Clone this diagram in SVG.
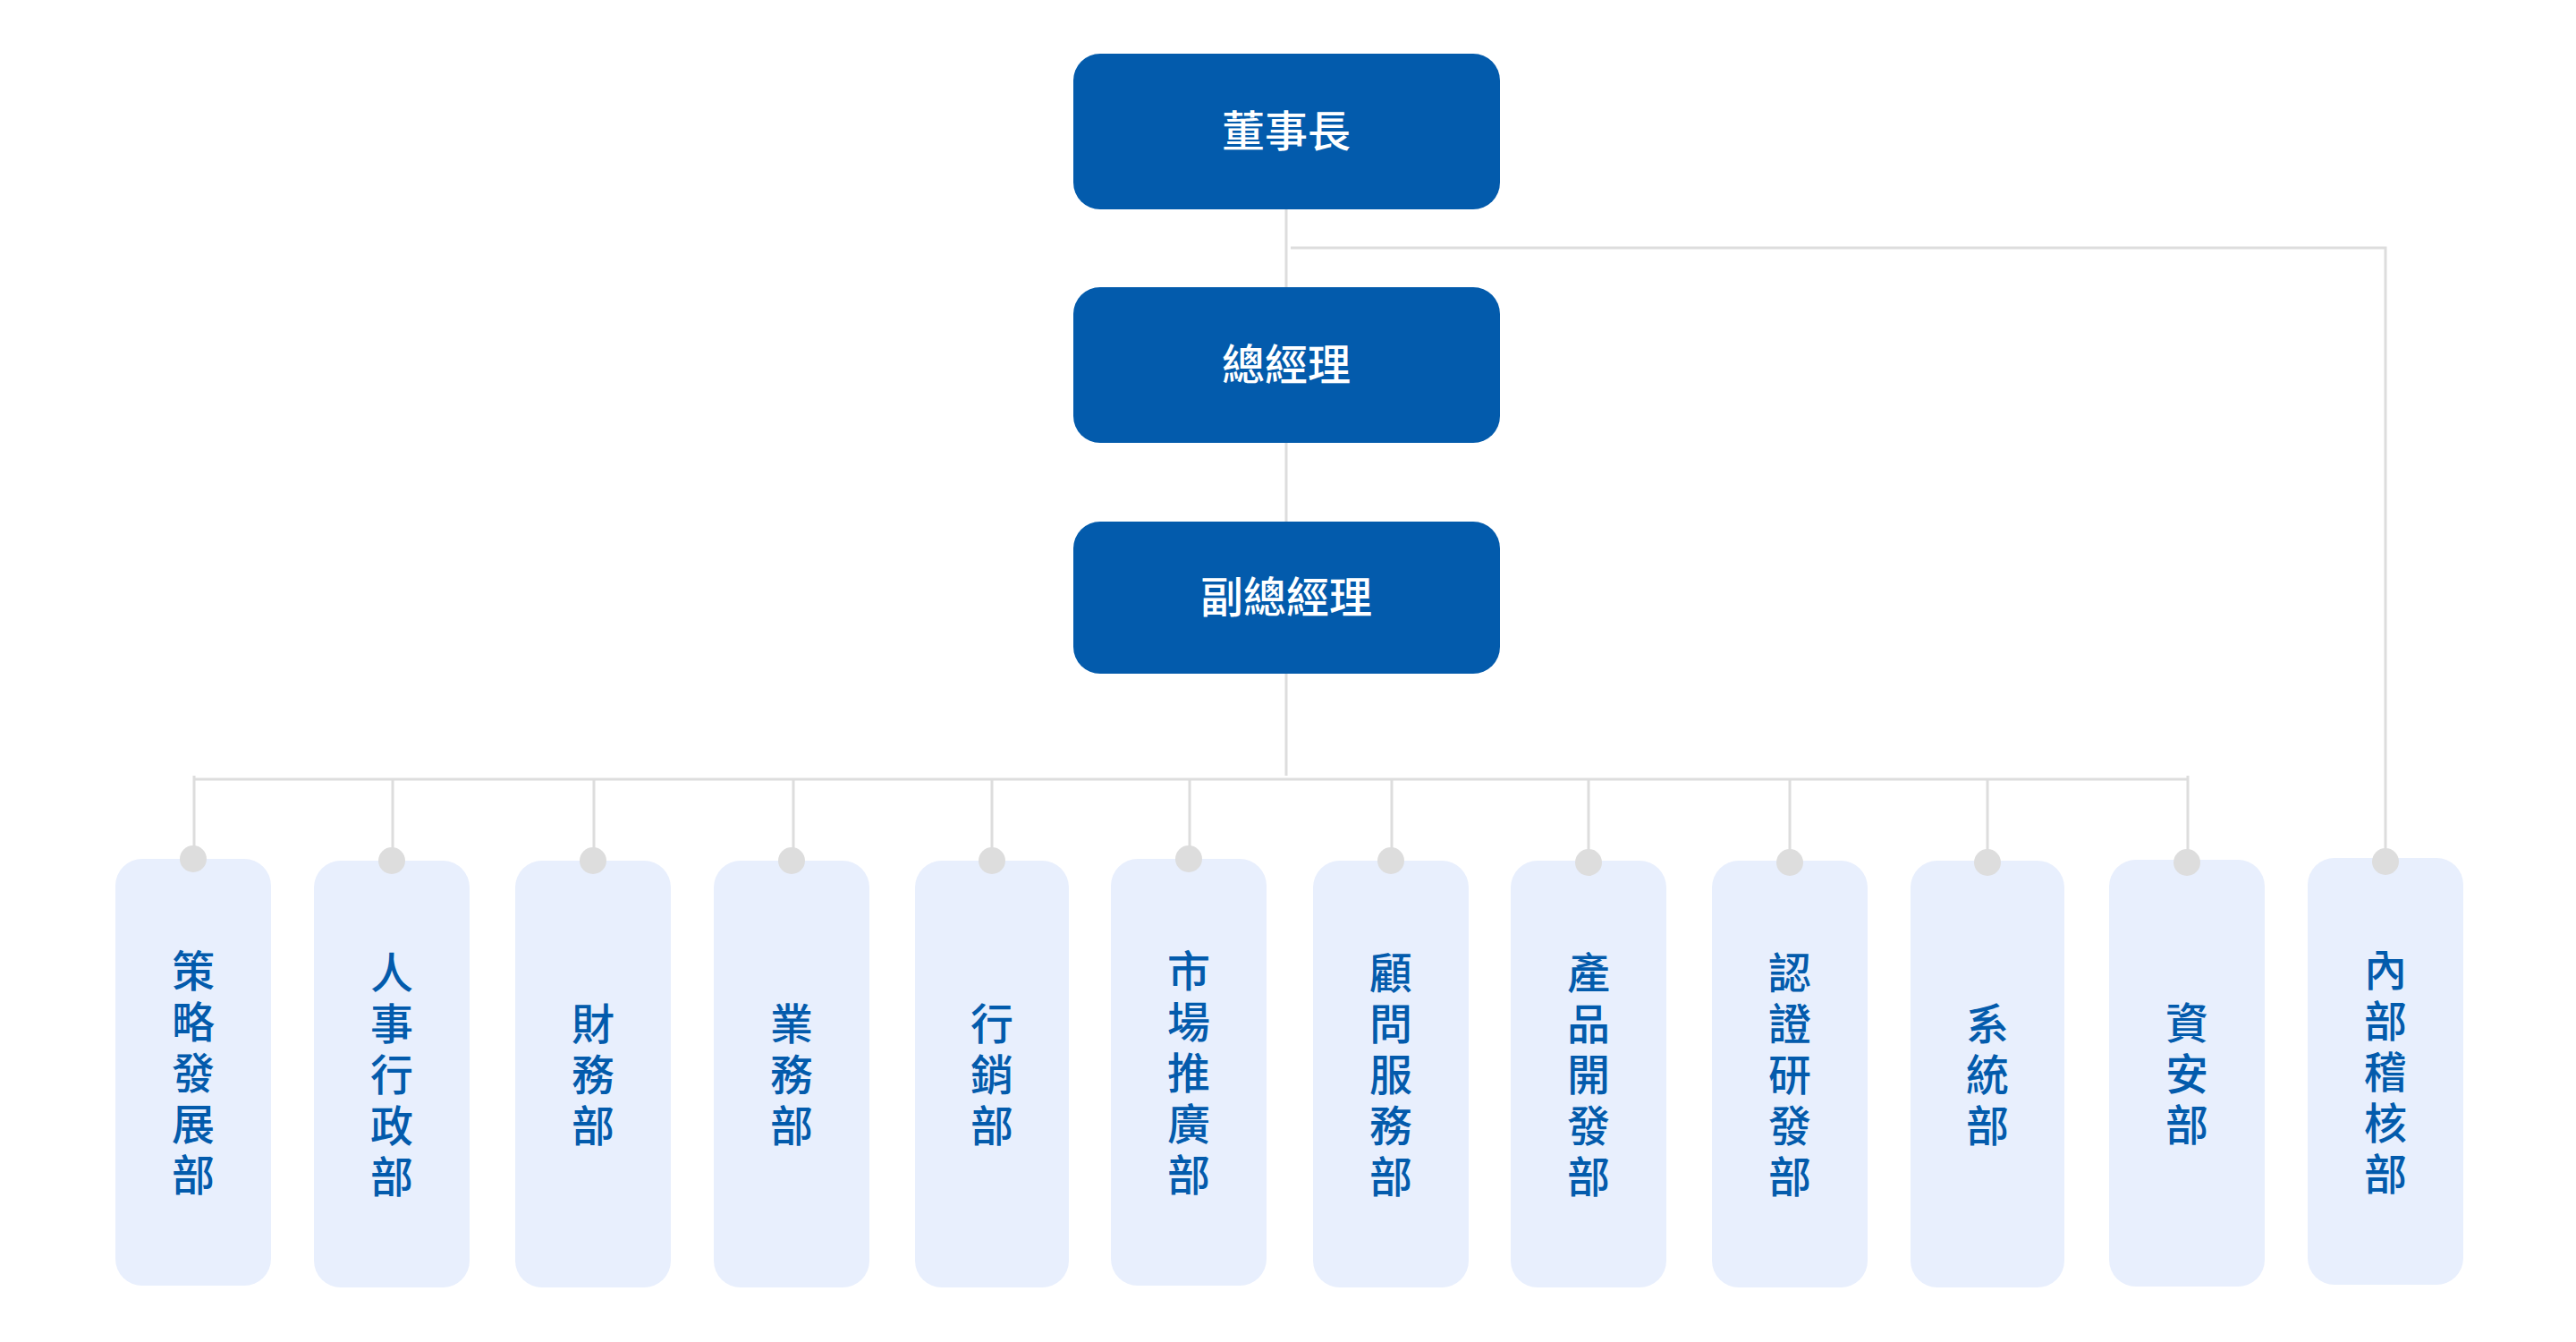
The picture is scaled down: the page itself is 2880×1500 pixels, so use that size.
<svg xmlns="http://www.w3.org/2000/svg" width="2880" height="1500" viewBox="0 0 2880 1500">
<style>
.exec{fill:#035BAC;}
.dept{fill:#E8EFFD;}
.et{fill:#FFFFFF;font-family:'Liberation Sans','Noto Sans CJK TC','Noto Sans CJK SC',sans-serif;font-size:48px;font-weight:500;text-anchor:middle;dominant-baseline:central;}
.dt{fill:#035BAC;font-family:'Liberation Sans','Noto Sans CJK TC','Noto Sans CJK SC',sans-serif;font-size:48px;font-weight:500;text-anchor:middle;dominant-baseline:central;}
.ln{stroke:#DDDDDD;stroke-width:3;fill:none;}
.dot{fill:#DDDDDD;}
</style>
<rect width="2880" height="1500" fill="#FFFFFF"/>
<g id="connectors">
<line class="ln" x1="1438" y1="234" x2="1438" y2="321"/>
<line class="ln" x1="1438" y1="495" x2="1438" y2="583"/>
<line class="ln" x1="1438" y1="752" x2="1438" y2="867"/>
<polyline class="ln" points="1443,277 2667,277 2667,960"/>
<line class="ln" x1="217" y1="871" x2="2447" y2="871"/>
<line class="ln" x1="217" y1="867" x2="217" y2="960"/>
<line class="ln" x1="439" y1="871" x2="439" y2="960"/>
<line class="ln" x1="664" y1="871" x2="664" y2="960"/>
<line class="ln" x1="887" y1="871" x2="887" y2="960"/>
<line class="ln" x1="1109" y1="871" x2="1109" y2="960"/>
<line class="ln" x1="1330" y1="871" x2="1330" y2="960"/>
<line class="ln" x1="1556" y1="871" x2="1556" y2="960"/>
<line class="ln" x1="1776" y1="871" x2="1776" y2="960"/>
<line class="ln" x1="2001" y1="871" x2="2001" y2="960"/>
<line class="ln" x1="2222" y1="871" x2="2222" y2="960"/>
<line class="ln" x1="2446" y1="867" x2="2446" y2="960"/>
</g>
<g id="n-chairman"><rect class="exec" x="1200" y="60" width="477" height="174" rx="30"/><text class="et" x="1438" y="147">董事長</text></g>
<g id="n-gm"><rect class="exec" x="1200" y="321" width="477" height="174" rx="30"/><text class="et" x="1438" y="408">總經理</text></g>
<g id="n-vgm"><rect class="exec" x="1200" y="583" width="477" height="170" rx="30"/><text class="et" x="1438" y="668">副總經理</text></g>

<g id="d1"><rect class="dept" x="129" y="960" width="174" height="477" rx="30"/><circle class="dot" cx="216" cy="960" r="15"/><text class="dt"><tspan x="216" y="1086">策</tspan><tspan x="216" y="1143">略</tspan><tspan x="216" y="1200">發</tspan><tspan x="216" y="1257">展</tspan><tspan x="216" y="1314">部</tspan></text></g>
<g id="d2"><rect class="dept" x="351" y="962" width="174" height="477" rx="30"/><circle class="dot" cx="438" cy="962" r="15"/><text class="dt"><tspan x="438" y="1088">人</tspan><tspan x="438" y="1145">事</tspan><tspan x="438" y="1202">行</tspan><tspan x="438" y="1259">政</tspan><tspan x="438" y="1316">部</tspan></text></g>
<g id="d3"><rect class="dept" x="576" y="962" width="174" height="477" rx="30"/><circle class="dot" cx="663" cy="962" r="15"/><text class="dt"><tspan x="663" y="1145">財</tspan><tspan x="663" y="1202">務</tspan><tspan x="663" y="1259">部</tspan></text></g>
<g id="d4"><rect class="dept" x="798" y="962" width="174" height="477" rx="30"/><circle class="dot" cx="885" cy="962" r="15"/><text class="dt"><tspan x="885" y="1145">業</tspan><tspan x="885" y="1202">務</tspan><tspan x="885" y="1259">部</tspan></text></g>
<g id="d5"><rect class="dept" x="1023" y="962" width="172" height="477" rx="30"/><circle class="dot" cx="1109" cy="962" r="15"/><text class="dt"><tspan x="1109" y="1145">行</tspan><tspan x="1109" y="1202">銷</tspan><tspan x="1109" y="1259">部</tspan></text></g>
<g id="d6"><rect class="dept" x="1242" y="960" width="174" height="477" rx="30"/><circle class="dot" cx="1329" cy="960" r="15"/><text class="dt"><tspan x="1329" y="1086">市</tspan><tspan x="1329" y="1143">場</tspan><tspan x="1329" y="1200">推</tspan><tspan x="1329" y="1257">廣</tspan><tspan x="1329" y="1314">部</tspan></text></g>
<g id="d7"><rect class="dept" x="1468" y="962" width="174" height="477" rx="30"/><circle class="dot" cx="1555" cy="962" r="15"/><text class="dt"><tspan x="1555" y="1088">顧</tspan><tspan x="1555" y="1145">問</tspan><tspan x="1555" y="1202">服</tspan><tspan x="1555" y="1259">務</tspan><tspan x="1555" y="1316">部</tspan></text></g>
<g id="d8"><rect class="dept" x="1689" y="962" width="174" height="477" rx="30"/><circle class="dot" cx="1776" cy="964" r="15"/><text class="dt"><tspan x="1776" y="1088">產</tspan><tspan x="1776" y="1145">品</tspan><tspan x="1776" y="1202">開</tspan><tspan x="1776" y="1259">發</tspan><tspan x="1776" y="1316">部</tspan></text></g>
<g id="d9"><rect class="dept" x="1914" y="962" width="174" height="477" rx="30"/><circle class="dot" cx="2001" cy="964" r="15"/><text class="dt"><tspan x="2001" y="1088">認</tspan><tspan x="2001" y="1145">證</tspan><tspan x="2001" y="1202">研</tspan><tspan x="2001" y="1259">發</tspan><tspan x="2001" y="1316">部</tspan></text></g>
<g id="d10"><rect class="dept" x="2136" y="962" width="172" height="477" rx="30"/><circle class="dot" cx="2222" cy="964" r="15"/><text class="dt"><tspan x="2222" y="1145">系</tspan><tspan x="2222" y="1202">統</tspan><tspan x="2222" y="1259">部</tspan></text></g>
<g id="d11"><rect class="dept" x="2358" y="961" width="174" height="477" rx="30"/><circle class="dot" cx="2445" cy="964" r="15"/><text class="dt"><tspan x="2445" y="1144">資</tspan><tspan x="2445" y="1201">安</tspan><tspan x="2445" y="1258">部</tspan></text></g>
<g id="d12"><rect class="dept" x="2580" y="959" width="174" height="477" rx="30"/><circle class="dot" cx="2667" cy="963" r="15"/><text class="dt"><tspan x="2667" y="1085">內</tspan><tspan x="2667" y="1142">部</tspan><tspan x="2667" y="1199">稽</tspan><tspan x="2667" y="1256">核</tspan><tspan x="2667" y="1313">部</tspan></text></g>
</svg>
